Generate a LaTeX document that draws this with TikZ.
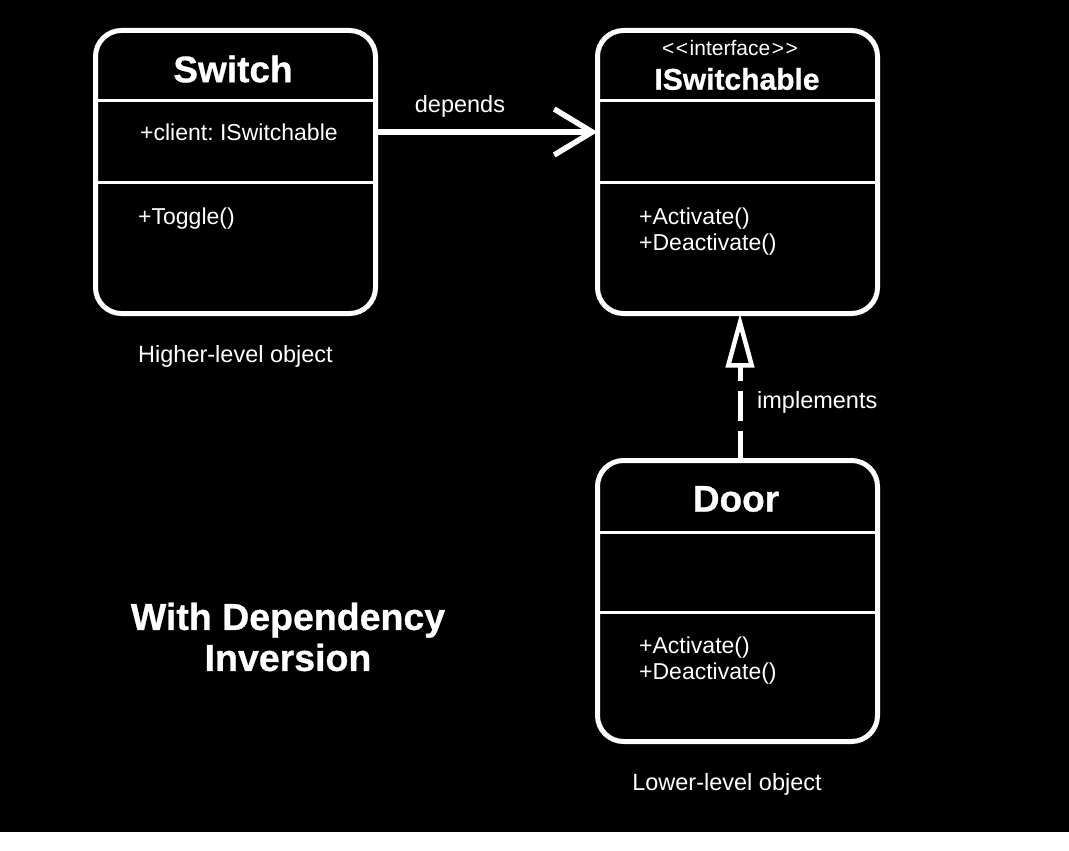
\documentclass[tikz,border=0pt]{standalone}
\usepackage{fontspec}
\setmainfont{Liberation Sans}
\newfontfamily\heavyfont[FakeBold=0.8]{Liberation Sans Bold}
\usetikzlibrary{arrows.meta}
\tikzset{
  umlbox/.style={draw=white, line width=5pt, rounded corners=26pt, fill=black,
    minimum width=280pt, inner sep=0pt, outer sep=0pt},
  divider/.style={draw=white, line width=3pt},
  titletxt/.style={text=white, font=\fontsize{37}{40}\selectfont\heavyfont, inner sep=0pt},
  ititletxt/.style={text=white, font=\fontsize{30}{34}\selectfont\heavyfont, inner sep=0pt},
  stereo/.style={text=white, font=\fontsize{21}{24}\selectfont, inner sep=0pt},
  membertxt/.style={text=white, font=\fontsize{23}{26}\selectfont\frenchspacing, inner sep=0pt, anchor=west, align=left},
  labeltxt/.style={text=white, font=\fontsize{23.5}{26}\selectfont, inner sep=0pt},
  bigtxt/.style={text=white, font=\fontsize{37.5}{41}\selectfont\heavyfont, inner sep=0pt, align=center},
  depend/.style={draw=white, line width=5.5pt, -{Straight Barb[length=38pt,width=46pt]}},
  realize/.style={draw=white, line width=5pt, dash pattern=on 30pt off 10pt,
    -{Triangle[open, length=54pt, width=28pt, line width=4.5pt]}}
}
\begin{document}
\begin{tikzpicture}[x=1pt,y=-1pt]
\fill[black] (0,0) rectangle (1069,832);
\fill[white] (0,832) rectangle (1069,851);
\useasboundingbox (0,0) rectangle (1069,851);

% boxes
\node[umlbox, minimum height=283pt] (switch) at (235.5,172) {};
\node[umlbox, minimum height=283pt] (iswitch) at (737.5,172) {};
\node[umlbox, minimum height=281pt] (door) at (737.5,601) {};

% dividers
\draw[divider] (switch.west |- 0,101) -- (switch.east |- 0,101);
\draw[divider] (switch.west |- 0,182) -- (switch.east |- 0,182);
\draw[divider] (iswitch.west |- 0,101) -- (iswitch.east |- 0,101);
\draw[divider] (iswitch.west |- 0,182) -- (iswitch.east |- 0,182);
\draw[divider] (door.west |- 0,532) -- (door.east |- 0,532);
\draw[divider] (door.west |- 0,612) -- (door.east |- 0,612);

% Switch texts
\node[titletxt] (swtitle) at (233,69) {Switch};
\node[membertxt] (swattr) at (140,132) {+client: ISwitchable};
\node[membertxt] (swop) at (138,219) {+Toggle()};

% ISwitchable texts
\node[stereo] (isst) at (730,48) {\textless\kern1.5pt\textless\kern1.5pt interface\kern1.5pt\textgreater\kern1.5pt\textgreater};
\node[ititletxt] (istitle) at (737,79) {ISwitchable};
\node[membertxt] (isops) at (639,232) {+Activate()\\+Deactivate()};

% Door texts
\node[titletxt] (dtitle) at (736,499) {Door};
\node[membertxt] (dops) at (639,661) {+Activate()\\+Deactivate()};

% connectors
\draw[depend] (switch.east |- 0,132) -- (iswitch.west |- 0,132);
\node[labeltxt] (deplbl) at (460,106) {depends};
\draw[realize] (door.north -| 740,0) -- (iswitch.south -| 740,0);
\node[labeltxt, anchor=west] (implbl) at (757,402) {implements};

% captions
\node[labeltxt, anchor=west] (higher) at (138,356) {Higher-level object};
\node[labeltxt] (lower) at (727,784) {Lower-level object};
\node[bigtxt] (heading) at (288,637) {With Dependency\\Inversion};
\end{tikzpicture}
\end{document}
